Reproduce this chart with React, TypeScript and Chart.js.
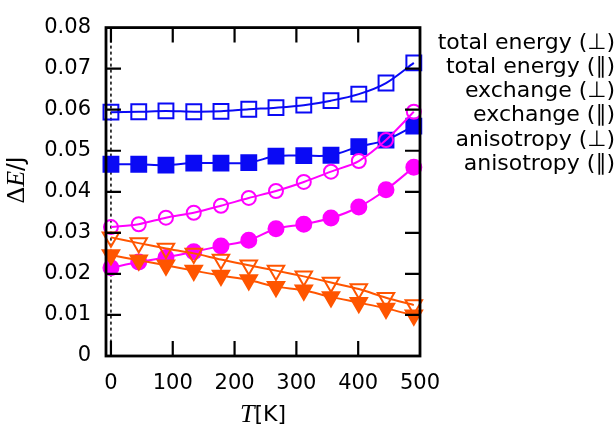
import React, { useEffect, useRef } from "react";
import { Chart, registerables } from "chart.js";
Chart.register(...registerables);

// ---- data ----
const temperatures = [0, 45, 89, 134, 178, 223, 267, 312, 356, 401, 445, 490];
const totalPerp = [0.0594, 0.0595, 0.0597, 0.0595, 0.0596, 0.0601, 0.0605, 0.0611, 0.0622, 0.0638, 0.0665, 0.0714];
const totalPar = [0.0467, 0.0467, 0.0465, 0.047, 0.047, 0.0471, 0.0487, 0.0488, 0.0489, 0.051, 0.0526, 0.056];
const exchangePerp = [0.0314, 0.0321, 0.0337, 0.0349, 0.0366, 0.0385, 0.0402, 0.0424, 0.0449, 0.0475, 0.0526, 0.0595];
const exchangePar = [0.0215, 0.0229, 0.024, 0.0254, 0.0268, 0.0282, 0.031, 0.0321, 0.0336, 0.0363, 0.0405, 0.046];
const anisoPerp = [0.0289, 0.0275, 0.0262, 0.025, 0.0235, 0.0221, 0.0208, 0.0194, 0.0179, 0.0163, 0.0142, 0.0124];
const anisoPar = [0.0246, 0.0233, 0.0221, 0.0208, 0.0196, 0.0185, 0.0169, 0.016, 0.0144, 0.013, 0.0116, 0.0099];
const seriesLabels = [
  "total energy (\u22A5)",
  "total energy (\u2225)",
  "exchange (\u22A5)",
  "exchange (\u2225)",
  "anisotropy (\u22A5)",
  "anisotropy (\u2225)",
];
const xTickValues = [0, 100, 200, 300, 400, 500];
const xTickLabels = ["0", "100", "200", "300", "400", "500"];
const yTickValues = [0, 0.01, 0.02, 0.03, 0.04, 0.05, 0.06, 0.07, 0.08];
const yTickLabels = ["0", "0.01", "0.02", "0.03", "0.04", "0.05", "0.06", "0.07", "0.08"];
const referenceT = 0;

const BLUE = "#0a0af5";
const MAGENTA = "#ff00ff";
const ORANGE = "#ff5500";

function series(label: string, values: number[], color: string, style: string, filled: boolean, radius: number, order: number) {
  return {
    label,
    data: temperatures.map((t, i) => ({ x: t, y: values[i] })),
    borderColor: color,
    backgroundColor: color,
    borderWidth: 2,
    pointStyle: style,
    pointRadius: radius,
    pointBorderWidth: 2,
    pointBorderColor: color,
    pointBackgroundColor: filled ? color : "rgba(0,0,0,0)",
    pointRotation: style === "triangle" ? 180 : 0,
    tension: 0.3,
    order,
    clip: false as any,
  };
}

const framePlugin = {
  id: "frameTicks",
  beforeDatasetsDraw(chart: any) {
    const { ctx, chartArea: a, scales } = chart;
    const px = scales.x.getPixelForValue(referenceT);
    ctx.save();
    ctx.strokeStyle = "#000";
    ctx.lineWidth = 1.5;
    ctx.setLineDash([3, 3]);
    ctx.beginPath();
    ctx.moveTo(px, a.top);
    ctx.lineTo(px, a.bottom);
    ctx.stroke();
    ctx.restore();
  },
  afterDatasetsDraw(chart: any) {
    const { ctx, chartArea: a, scales } = chart;
    const L = 15;
    ctx.save();
    ctx.strokeStyle = "#000";
    ctx.lineWidth = 2.2;
    ctx.beginPath();
    scales.x.ticks.forEach((t: any) => {
      const p = scales.x.getPixelForValue(t.value);
      if (p > a.right - 2) return;
      ctx.moveTo(p, a.bottom);
      ctx.lineTo(p, a.bottom - L);
      ctx.moveTo(p, a.top);
      ctx.lineTo(p, a.top + L);
    });
    scales.y.ticks.forEach((t: any) => {
      const p = scales.y.getPixelForValue(t.value);
      if (p < a.top + 2 || p > a.bottom - 2) return;
      ctx.moveTo(a.left, p);
      ctx.lineTo(a.left + L, p);
      ctx.moveTo(a.right, p);
      ctx.lineTo(a.right - L, p);
    });
    ctx.stroke();
    ctx.lineWidth = 2.8;
    ctx.strokeRect(a.left, a.top, a.right - a.left, a.bottom - a.top);
    ctx.restore();
  },
  afterDraw(chart: any) {
    const { ctx, chartArea: a } = chart;
    ctx.save();
    ctx.fillStyle = "#000";
    // legend (text only, right aligned)
    ctx.font = "22px 'DejaVu Sans'";
    ctx.textAlign = "right";
    ctx.textBaseline = "middle";
    chart.data.datasets.forEach((ds: any, i: number) => {
      ctx.fillText(ds.label, 615, 43 + i * 24.2);
    });
    const drawParts = (parts: { t: string; f: string }[], cx: number, cy: number, rot: number) => {
      ctx.save();
      ctx.translate(cx, cy);
      ctx.rotate(rot);
      ctx.textAlign = "left";
      ctx.textBaseline = "middle";
      let w = 0;
      parts.forEach((p) => {
        ctx.font = p.f;
        w += ctx.measureText(p.t).width;
      });
      let x = -w / 2;
      parts.forEach((p) => {
        ctx.font = p.f;
        ctx.fillText(p.t, x, 0);
        x += ctx.measureText(p.t).width;
      });
      ctx.restore();
    };
    // x title: T[K]
    drawParts(
      [
        { t: "T", f: "italic 26px 'Liberation Serif'" },
        { t: "[K]", f: "22px 'DejaVu Sans'" },
      ],
      (a.left + a.right) / 2,
      415,
      0
    );
    // y title: ΔE/J
    drawParts(
      [
        { t: "\u0394", f: "26px 'Liberation Serif'" },
        { t: "E", f: "italic 26px 'Liberation Serif'" },
        { t: "/", f: "23px 'DejaVu Sans'" },
        { t: "J", f: "23px 'DejaVu Sans'" },
      ],
      17,
      180,
      -Math.PI / 2
    );
    ctx.restore();
  },
};

export default function App() {
  const ref = useRef<HTMLCanvasElement>(null);
  useEffect(() => {
    if (!ref.current) return;
    const chart = new Chart(ref.current, {
      type: "line",
      data: {
        datasets: [
          series(seriesLabels[0], totalPerp, BLUE, "rect", false, 10.5, 3),
          series(seriesLabels[1], totalPar, BLUE, "rect", true, 10.5, 3),
          series(seriesLabels[2], exchangePerp, MAGENTA, "circle", false, 7, 2),
          series(seriesLabels[3], exchangePar, MAGENTA, "circle", true, 7.5, 2),
          series(seriesLabels[4], anisoPerp, ORANGE, "triangle", false, 9.5, 1),
          series(seriesLabels[5], anisoPar, ORANGE, "triangle", true, 9.5, 1),
        ] as any,
      },
      options: {
        animation: false,
        responsive: false,
        maintainAspectRatio: false,
        devicePixelRatio: 1,
        layout: { padding: { top: 12, right: 196, left: 0, bottom: 0 } },
        plugins: { legend: { display: false }, tooltip: { enabled: false } },
        scales: {
          x: {
            type: "linear",
            min: -8,
            max: 500,
            afterBuildTicks: (s: any) => {
              s.ticks = xTickValues.map((v) => ({ value: v }));
            },
            afterFit: (s: any) => {
              s.height = 79;
            },
            grid: { display: false, drawTicks: false },
            border: { display: false },
            ticks: {
              color: "#000",
              font: { family: "'DejaVu Sans'", size: 21 },
              padding: 15,
              maxRotation: 0,
              autoSkip: false,
              callback: (v: any) => xTickLabels[xTickValues.indexOf(Number(v))] ?? "",
            },
          },
          y: {
            type: "linear",
            min: 0,
            max: 0.08,
            afterBuildTicks: (s: any) => {
              s.ticks = yTickValues.map((v) => ({ value: v }));
            },
            afterFit: (s: any) => {
              s.width = 106;
            },
            grid: { display: false, drawTicks: false },
            border: { display: false },
            ticks: {
              color: "#000",
              font: { family: "'DejaVu Sans'", size: 21 },
              padding: 15,
              autoSkip: false,
              callback: (v: any) => {
                const i = yTickValues.findIndex((t) => Math.abs(t - Number(v)) < 1e-9);
                return i >= 0 ? yTickLabels[i] : "";
              },
            },
          },
        },
      },
      plugins: [framePlugin],
    });
    return () => chart.destroy();
  }, []);
  return (
    <div style={{ position: "absolute", left: 0, top: 0, width: 616, height: 435, background: "#fff" }}>
      <canvas ref={ref} width={616} height={435} style={{ display: "block" }} />
    </div>
  );
}
